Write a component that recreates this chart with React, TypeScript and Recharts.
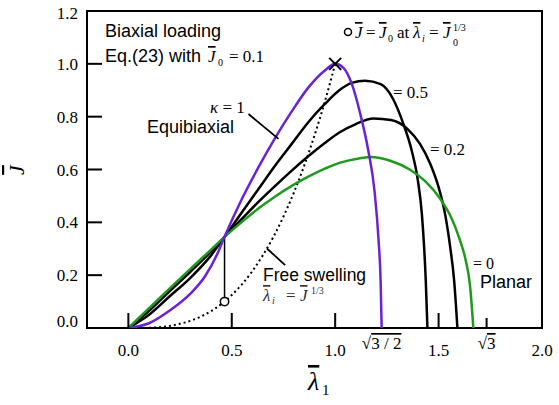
import React from "react";
import {
  ComposedChart,
  Line,
  Scatter,
  XAxis,
  YAxis,
  ReferenceArea,
  ReferenceLine,
} from "recharts";

const SERIF = '"Liberation Serif", "Times New Roman", Times, Tinos, "Noto Serif", "Nimbus Roman", FreeSerif, "DejaVu Serif", serif';
const SANS = '"Liberation Sans", Arial, sans-serif';
const PURPLE = "#6a22d6";
const GREEN = "#1f9a1f";

// kappa = 1 (equibiaxial)
const k1Lam = [0, 0.1, 0.2, 0.3, 0.37, 0.43, 0.465, 0.55, 0.63, 0.71, 0.79, 0.87, 0.95, 1.0, 1.04, 1.08, 1.12, 1.16, 1.19, 1.21, 1.22, 1.2247];
const k1J = [0, 0.018, 0.066, 0.13, 0.195, 0.28, 0.345, 0.49, 0.61, 0.72, 0.82, 0.91, 0.975, 1.0, 0.985, 0.925, 0.815, 0.672, 0.52, 0.33, 0.17, 0];

// kappa = 0.5
const k05Lam = [0, 0.1, 0.2, 0.3, 0.4, 0.465, 0.55, 0.63, 0.71, 0.79, 0.87, 0.95, 1.02, 1.08, 1.145, 1.22, 1.28, 1.33, 1.37, 1.4, 1.419, 1.43, 1.438, 1.446];
const k05J = [0, 0.05, 0.12, 0.19, 0.275, 0.345, 0.439, 0.527, 0.615, 0.697, 0.779, 0.848, 0.9, 0.928, 0.936, 0.923, 0.867, 0.772, 0.672, 0.558, 0.433, 0.307, 0.181, 0];

// kappa = 0.2
const k02Lam = [0, 0.1, 0.2, 0.3, 0.4, 0.465, 0.55, 0.63, 0.71, 0.79, 0.87, 0.95, 1.02, 1.1, 1.185, 1.27, 1.35, 1.41, 1.46, 1.5, 1.531, 1.556, 1.575, 1.591];
const k02J = [0, 0.065, 0.14, 0.213, 0.29, 0.345, 0.414, 0.478, 0.538, 0.596, 0.65, 0.7, 0.74, 0.772, 0.793, 0.787, 0.753, 0.697, 0.621, 0.533, 0.433, 0.307, 0.181, 0];

// kappa = 0 (planar)
const k0Lam = [0, 0.1, 0.2, 0.3, 0.4, 0.465, 0.55, 0.63, 0.71, 0.79, 0.87, 0.95, 1.02, 1.1, 1.17, 1.27, 1.36, 1.435, 1.507, 1.56, 1.6, 1.63, 1.652, 1.668];
const k0J = [0, 0.075, 0.15, 0.224, 0.297, 0.345, 0.402, 0.453, 0.498, 0.538, 0.573, 0.603, 0.625, 0.64, 0.647, 0.632, 0.6, 0.556, 0.49, 0.42, 0.34, 0.26, 0.16, 0];

// free swelling
const freeLam = [0.1, 0.15, 0.2, 0.25, 0.3, 0.35, 0.4, 0.465, 0.5, 0.55, 0.6, 0.65, 0.7, 0.75, 0.8, 0.85, 0.9, 0.95, 1.0];
const freeJ = [0.001, 0.003, 0.008, 0.016, 0.027, 0.043, 0.064, 0.1, 0.125, 0.166, 0.216, 0.275, 0.343, 0.422, 0.512, 0.614, 0.729, 0.857, 1.0];

const j0Point = [{ x: 0.465, y: 0.1 }];
const crossPoint = { x: 0.465, y: 0.345 };
const peakPoint = [{ x: 1.0, y: 1.0 }];

const xTicks = [0, 0.5, 1.0, 1.2247, 1.5, 1.7321, 2.0];
const yTicks = [0, 0.2, 0.4, 0.6, 0.8, 1.0, 1.2];

const toPts = (xs: number[], ys: number[]) => xs.map((x, i) => ({ x, y: ys[i] }));

const serif = { fontFamily: SERIF };
const sans = { fontFamily: SANS };
const barred = { fontFamily: SERIF, fontStyle: "italic", textDecoration: "overline" } as const;

function XTick({ x, y, payload }: any) {
  const v = payload.value as number;
  const near = (a: number) => Math.abs(v - a) < 1e-3;
  const len = near(1.7321) ? 10 : near(0) || near(0.5) || near(1) || near(1.5) ? 15 : 0;
  let label: React.ReactNode = v.toFixed(1);
  if (near(1.2247))
    label = (
      <>
        √<tspan style={{ textDecoration: "overline" }}>3 / 2</tspan>
      </>
    );
  if (near(1.7321))
    label = (
      <>
        √<tspan style={{ textDecoration: "overline" }}>3</tspan>
      </>
    );
  const dy = near(1.2247) || near(1.7321) ? 21 : 28;
  return (
    <g>
      {len > 0 && <line x1={x} x2={x} y1={y} y2={y - len} stroke="#000" strokeWidth={2} />}
      <text x={x} y={y + dy} textAnchor="middle" style={serif} fontSize={17} fill="#000">
        {label}
      </text>
    </g>
  );
}

function YTick({ x, y, payload }: any) {
  const v = payload.value as number;
  const inner = v > 0.01 && v < 1.19;
  const dy = v < 0.01 ? -1.5 : v > 1.19 ? 8 : 6;
  return (
    <g>
      {inner && <line x1={x} x2={x + 15} y1={y} y2={y} stroke="#000" strokeWidth={2} />}
      <text x={x - 9} y={y + dy} textAnchor="end" style={serif} fontSize={17} fill="#000">
        {v.toFixed(1)}
      </text>
    </g>
  );
}

function Annotations() {
  return (
    <svg
      width={559}
      height={405}
      style={{ position: "absolute", left: 0, top: 0, pointerEvents: "none" }}
    >
      <text x={105} y={37} style={sans} fontSize={18}>Biaxial loading</text>
      <text x={105} y={62} style={sans} fontSize={18}>Eq.(23) with</text>
      <text x={208} y={62} style={barred} fontSize={17}>J</text>
      <text x={218} y={66} style={serif} fontSize={10}>0</text>
      <text x={229} y={62} style={serif} fontSize={17}>= 0.1</text>

      <text x={210} y={113} style={serif} fontSize={17}>
        <tspan fontStyle="italic">κ</tspan> = 1
      </text>
      <text x={147} y={133} style={sans} fontSize={18}>Equibiaxial</text>

      <text x={393} y={98} style={serif} fontSize={17}>= 0.5</text>
      <text x={430} y={155} style={serif} fontSize={17}>= 0.2</text>
      <text x={473} y={269} style={serif} fontSize={16}>= 0</text>
      <text x={480} y={288} style={sans} fontSize={18}>Planar</text>

      <text x={263} y={281} style={sans} fontSize={17.5}>Free swelling</text>
      <text x={263} y={301} style={barred} fontSize={17} fill="#333">λ</text>
      <text x={272} y={304} style={{ ...serif, fontStyle: "italic" }} fontSize={10} fill="#333">i</text>
      <text x={286} y={301} style={serif} fontSize={17} fill="#333">=</text>
      <text x={300} y={301} style={barred} fontSize={17} fill="#333">J</text>
      <text x={311} y={294} style={serif} fontSize={10} fill="#333">1/3</text>

      <circle cx={348} cy={32} r={3.5} fill="none" stroke="#000" strokeWidth={1.5} />
      <text x={355} y={38} style={barred} fontSize={17}>J</text>
      <text x={366} y={38} style={serif} fontSize={17}>=</text>
      <text x={379} y={38} style={barred} fontSize={17}>J</text>
      <text x={388} y={42} style={serif} fontSize={10}>0</text>
      <text x={397} y={38} style={serif} fontSize={17}>at</text>
      <text x={413} y={38} style={barred} fontSize={17}>λ</text>
      <text x={422} y={42} style={{ ...serif, fontStyle: "italic" }} fontSize={10}>i</text>
      <text x={429} y={38} style={serif} fontSize={17}>=</text>
      <text x={443} y={38} style={barred} fontSize={17}>J</text>
      <text x={453} y={31} style={serif} fontSize={10}>1/3</text>
      <text x={453} y={46} style={serif} fontSize={10}>0</text>

      <text x={308} y={390} style={barred} fontSize={26}>λ</text>
      <text x={322} y={395} style={serif} fontSize={15}>1</text>
      <text
        x={0}
        y={0}
        style={barred}
        fontSize={22}
        transform="translate(24,170) rotate(-90)"
        textAnchor="middle"
      >
        J
      </text>
    </svg>
  );
}

export default function App() {
  return (
    <div style={{ position: "fixed", left: 0, top: 0, width: 559, height: 405, background: "#fff" }}>
      <ComposedChart
        width={559}
        height={405}
        margin={{ top: 11, right: 17, left: 27, bottom: 37 }}
      >
        <XAxis
          dataKey="x"
          type="number"
          domain={[-0.2, 2.0]}
          ticks={xTicks}
          interval={0}
          allowDataOverflow
          axisLine={false}
          tickLine={false}
          tickSize={0}
          tickMargin={0}
          height={40}
          tick={(p: any) => <XTick {...p} />}
        />
        <YAxis
          dataKey="y"
          type="number"
          domain={[0, 1.2]}
          ticks={yTicks}
          interval={0}
          allowDataOverflow
          axisLine={false}
          tickLine={false}
          tickSize={0}
          tickMargin={0}
          width={60}
          tick={(p: any) => <YTick {...p} />}
        />
        <Line
          data={toPts(freeLam, freeJ)}
          dataKey="y"
          type="monotone"
          stroke="#000"
          strokeWidth={2}
          strokeDasharray="2 3"
          dot={false}
          activeDot={false}
          isAnimationActive={false}
        />
        <Line
          data={[j0Point[0], crossPoint]}
          dataKey="y"
          type="linear"
          stroke="#000"
          strokeWidth={1.5}
          dot={false}
          activeDot={false}
          isAnimationActive={false}
        />
        <Line
          data={toPts(k05Lam, k05J)}
          dataKey="y"
          type="monotone"
          stroke="#000"
          strokeWidth={2.5}
          dot={false}
          activeDot={false}
          isAnimationActive={false}
        />
        <Line
          data={toPts(k02Lam, k02J)}
          dataKey="y"
          type="monotone"
          stroke="#000"
          strokeWidth={2.5}
          dot={false}
          activeDot={false}
          isAnimationActive={false}
        />
        <Line
          data={toPts(k0Lam, k0J)}
          dataKey="y"
          type="monotone"
          stroke={GREEN}
          strokeWidth={2.5}
          dot={false}
          activeDot={false}
          isAnimationActive={false}
        />
        <Line
          data={toPts(k1Lam, k1J)}
          dataKey="y"
          type="monotone"
          stroke={PURPLE}
          strokeWidth={2.5}
          dot={false}
          activeDot={false}
          isAnimationActive={false}
        />
        <ReferenceLine
          segment={[{ x: 0.581, y: 0.81 }, { x: 0.726, y: 0.716 }]}
          stroke="#000"
          strokeWidth={1.8}
          ifOverflow="visible"
        />
        <ReferenceLine
          segment={[{ x: 0.67, y: 0.301 }, { x: 0.758, y: 0.238 }]}
          stroke="#000"
          strokeWidth={1.8}
          ifOverflow="visible"
        />
        <Scatter
          data={j0Point}
          dataKey="y"
          isAnimationActive={false}
          shape={(p: any) => (
            <circle cx={p.cx} cy={p.cy} r={4.2} fill="#fff" stroke="#000" strokeWidth={1.5} />
          )}
        />
        <Scatter
          data={peakPoint}
          dataKey="y"
          isAnimationActive={false}
          shape={(p: any) => (
            <g stroke="#000" strokeWidth={2}>
              <line x1={p.cx - 6} y1={p.cy - 6} x2={p.cx + 6} y2={p.cy + 6} />
              <line x1={p.cx - 6} y1={p.cy + 6} x2={p.cx + 6} y2={p.cy - 6} />
            </g>
          )}
        />
        <ReferenceArea
          x1={-0.2}
          x2={2.0}
          y1={0}
          y2={1.2}
          fill="none"
          fillOpacity={0}
          stroke="#000"
          strokeWidth={2}
          ifOverflow="visible"
        />
      </ComposedChart>
      <Annotations />
    </div>
  );
}
